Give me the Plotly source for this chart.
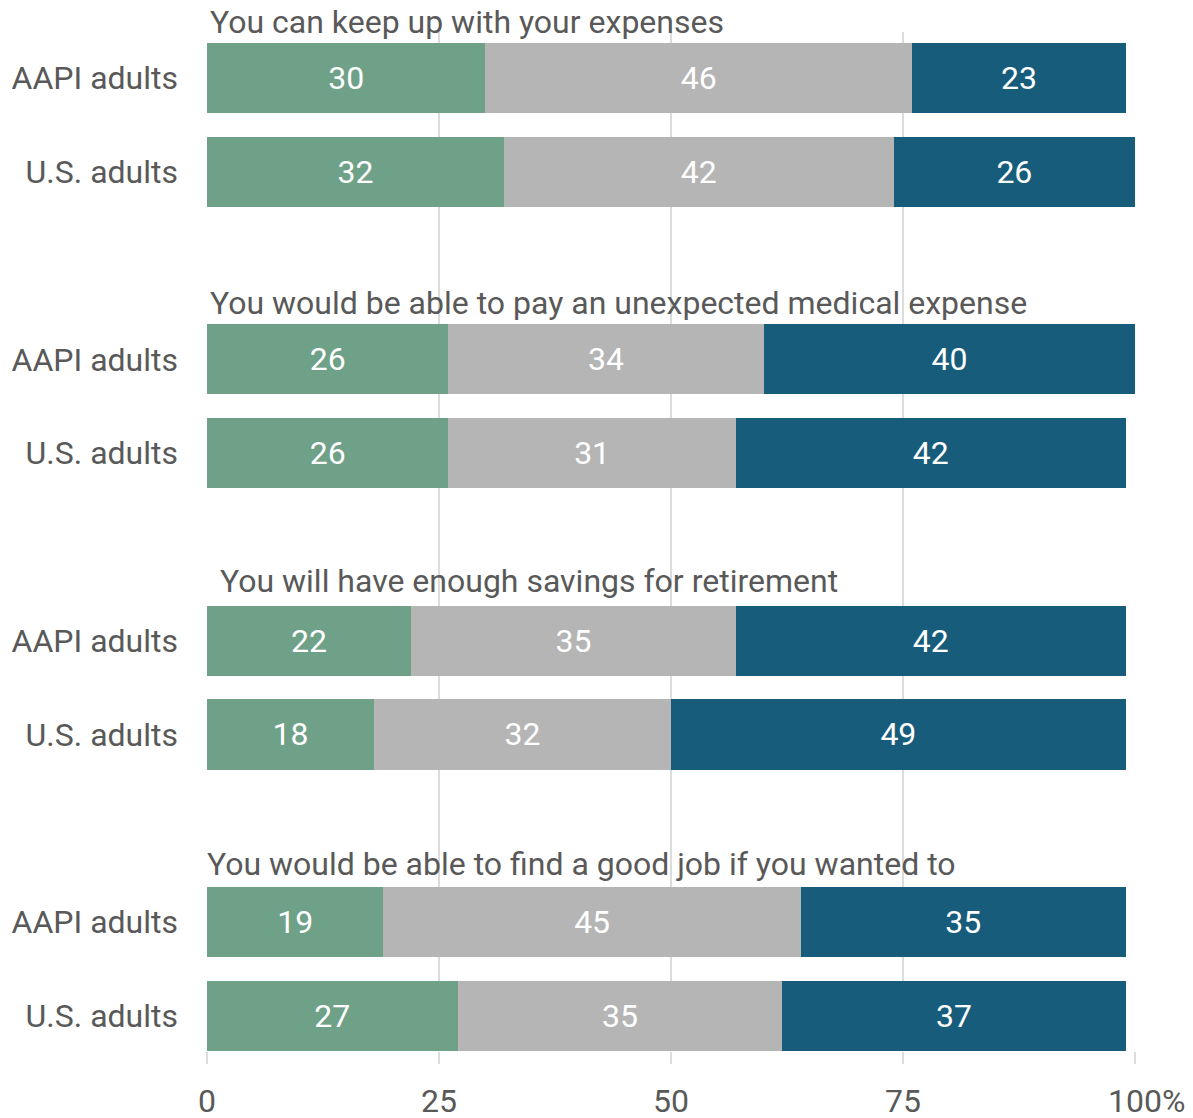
import plotly.graph_objects as go

questions = [
    "You can keep up with your expenses",
    "You would be able to pay an unexpected medical expense",
    "You will have enough savings for retirement",
    "You would be able to find a good job if you wanted to",
]
groups = ["AAPI adults", "U.S. adults"]

# values per question: [AAPI, U.S.]
green_vals = [[30, 32], [26, 26], [22, 18], [19, 27]]
gray_vals = [[46, 42], [34, 31], [35, 32], [45, 35]]
blue_vals = [[23, 26], [40, 42], [42, 49], [35, 37]]

x_ticks = [0, 25, 50, 75, 100]
x_ticklabels = ["0", "25", "50", "75", "100%"]

series = [
    ("green", green_vals, "#6ea187"),
    ("gray", gray_vals, "#b5b5b5"),
    ("blue", blue_vals, "#175c7b"),
]

FONT = "Roboto"
TXT = "#595959"

ypos, ylab = [], []
for qi in range(len(questions)):
    for gi, g in enumerate(groups):
        ypos.append(qi * 3 + gi)
        ylab.append(g)

Y_BOTTOM, Y_TOP = 10.375, -0.49
W, H = 1185, 1110
M = dict(l=199, r=58, t=24, b=67)
PLOT_H = H - M["t"] - M["b"]


def to_paper(y):
    return (y - Y_BOTTOM) / (Y_TOP - Y_BOTTOM)


fig = go.Figure()
for name, vals, color in series:
    flat = [v for pair in vals for v in pair]
    fig.add_trace(go.Bar(
        x=flat, y=ypos, orientation="h", name=name,
        marker=dict(color=color, line=dict(width=0)),
        width=0.75,
        text=[str(v) for v in flat],
        textposition="inside", insidetextanchor="middle",
        textfont=dict(color="white", size=32, family=FONT),
        showlegend=False,
    ))

title_shift = [1, 1, 11, -2]
title_y = [-0.6, -0.6, -0.64, -0.62]
for qi, q in enumerate(questions):
    fig.add_annotation(
        x=0, y=to_paper(qi * 3 + title_y[qi]), xref="x", yref="paper",
        text=q, showarrow=False, xanchor="left", yanchor="middle",
        xshift=title_shift[qi],
        font=dict(size=32, color=TXT, family=FONT),
    )

# tick labels drawn as annotations so the last one ("100%") can be offset like the original
label_shift = [0, 0, 0, 0, 11]
for v, t, s in zip(x_ticks, x_ticklabels, label_shift):
    fig.add_annotation(
        x=v, y=-50 / PLOT_H, xref="x", yref="paper",
        text=t, showarrow=False, xanchor="center", yanchor="middle",
        xshift=s,
        font=dict(size=32, color=TXT, family=FONT),
    )

fig.update_layout(
    barmode="stack",
    width=W, height=H,
    margin=M,
    plot_bgcolor="white", paper_bgcolor="white",
    font=dict(family=FONT, color=TXT),
)
fig.update_xaxes(
    range=[0, 100], tickvals=x_ticks,
    showticklabels=False,
    showgrid=True, gridcolor="#dcdcdc", gridwidth=2,
    zeroline=False, showline=False, automargin=False,
    ticks="outside", ticklen=12, tickcolor="#dcdcdc", tickwidth=2,
)
fig.update_yaxes(
    range=[Y_BOTTOM, Y_TOP], tickvals=ypos, ticktext=ylab,
    showgrid=False, zeroline=False, showline=False, automargin=False,
    ticklabelstandoff=28,
    tickfont=dict(size=32, color=TXT, family=FONT),
)

fig.write_html("out.html")
